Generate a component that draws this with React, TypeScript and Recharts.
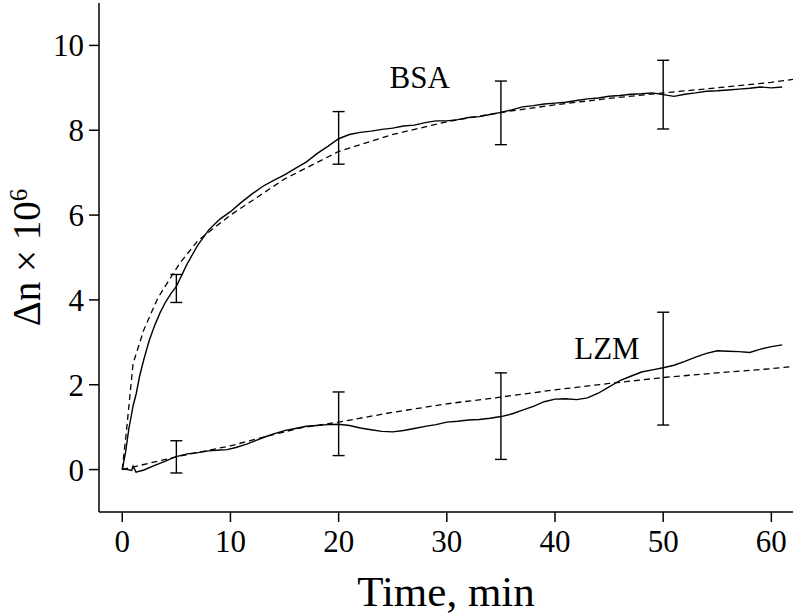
import React from "react";
import { ComposedChart, Line, Scatter, ErrorBar, XAxis, YAxis, ReferenceDot } from "recharts";

document.body.style.margin = "0";

const FONT = "'Liberation Serif', 'DejaVu Serif', serif";

// [time (min), Δn × 10^6]
const bsaMeasured: [number, number][] = [
  [0, 0], [0.3, 0.4], [0.6, 0.95], [1, 1.5], [1.3, 1.8], [1.6, 2.2], [2, 2.6], [2.5, 3.05],
  [3, 3.4], [3.5, 3.7], [4, 3.95], [4.5, 4.15], [5, 4.32], [6, 4.85], [7, 5.3], [8, 5.65],
  [9, 5.9], [10, 6.08], [11, 6.3], [12, 6.5], [13, 6.68], [14, 6.82], [15, 6.95], [16, 7.1],
  [17, 7.25], [18, 7.45], [19, 7.62], [20, 7.8], [21, 7.9], [22, 7.95], [23, 7.98], [24, 8.02],
  [25, 8.05], [26, 8.1], [27, 8.12], [28, 8.18], [29, 8.22], [30, 8.22], [31, 8.25], [32, 8.3],
  [33, 8.32], [34, 8.37], [35, 8.42], [36, 8.48], [37, 8.55], [38, 8.58], [39, 8.62], [40, 8.64],
  [41, 8.66], [42, 8.7], [43, 8.74], [44, 8.76], [45, 8.8], [46, 8.82], [47, 8.85], [48, 8.86],
  [49, 8.88], [50, 8.84], [51, 8.8], [52, 8.85], [53, 8.88], [54, 8.92], [55, 8.93], [56, 8.95],
  [57, 8.97], [58, 8.99], [59, 9.02], [60, 9.0], [61, 9.02],
];

const bsaFit: [number, number][] = [
  [0, 0], [0.4, 0.94], [0.7, 1.73], [1, 2.5], [2, 3.3], [3.3, 4.05], [5.3, 4.86], [7, 5.4],
  [10, 6.0], [15, 6.85], [20, 7.5], [25, 7.9], [30, 8.2], [35, 8.42], [40, 8.6], [45, 8.75],
  [50, 8.88], [55, 9.0], [60, 9.13], [62, 9.2],
];

const lzmMeasured: [number, number][] = [
  [0, 0.02], [0.5, 0.0], [0.87, -0.02], [1.0, 0.08], [1.27, -0.06], [2, -0.01], [3, 0.1],
  [4, 0.2], [4.9, 0.3], [6, 0.37], [7, 0.4], [8, 0.44], [9, 0.46], [9.7, 0.47], [10.5, 0.52],
  [11.5, 0.6], [12.5, 0.7], [13.3, 0.78], [14, 0.84], [15, 0.92], [16, 0.97], [17, 1.02],
  [18, 1.04], [19, 1.06], [20, 1.07], [21, 1.04], [22, 0.98], [23, 0.94], [24, 0.9], [25, 0.89],
  [26, 0.92], [27, 0.97], [28, 1.02], [29, 1.06], [30, 1.12], [31, 1.14], [32, 1.17], [33, 1.18],
  [34, 1.21], [35, 1.25], [36, 1.31], [37, 1.4], [38, 1.49], [39, 1.6], [40, 1.66], [41, 1.67],
  [42, 1.65], [43, 1.69], [44, 1.8], [45, 1.95], [46, 2.1], [47, 2.2], [48, 2.3], [49, 2.35],
  [50, 2.4], [51, 2.46], [52, 2.55], [53, 2.65], [54, 2.74], [55, 2.8], [56, 2.79], [57, 2.78],
  [58, 2.76], [59, 2.84], [60, 2.9], [61, 2.94],
];

const lzmFit: [number, number][] = [
  [0, 0], [2, 0.12], [5, 0.3], [10, 0.56], [13.3, 0.78], [16.4, 0.98], [20, 1.12], [25, 1.35],
  [30, 1.55], [35, 1.71], [40, 1.88], [45, 2.03], [50, 2.17], [55, 2.28], [60, 2.38], [62, 2.43],
];

// [time, mean, ± error]
const bsaBars: [number, number, number][] = [
  [5, 4.27, 0.33], [20, 7.82, 0.62], [35, 8.41, 0.75], [50, 8.84, 0.81],
];
const lzmBars: [number, number, number][] = [
  [5, 0.3, 0.38], [20, 1.08, 0.75], [35, 1.26, 1.02], [50, 2.38, 1.33],
];

const xTicks = [0, 10, 20, 30, 40, 50, 60];
const yTicks = [0, 2, 4, 6, 8, 10];

const pts = (rows: [number, number][]) => rows.map(([t, v]) => ({ t, v }));
const bars = (rows: [number, number, number][]) => rows.map(([t, v, e]) => ({ t, v, e }));

const tag = (text: string) => (props: any) => {
  const { viewBox } = props;
  return (
    <text
      x={viewBox.x + viewBox.width / 2}
      y={viewBox.y + viewBox.height / 2}
      textAnchor="middle"
      fontFamily={FONT}
      fontSize={31}
      fill="#000"
    >
      {text}
    </text>
  );
};

const YTitle = (props: any) => {
  const { viewBox } = props;
  const x = viewBox.x + 40;
  const y = viewBox.y + viewBox.height / 2;
  return (
    <text
      x={x}
      y={y}
      transform={`rotate(-90, ${x}, ${y})`}
      textAnchor="middle"
      fontFamily={FONT}
      fontSize={39}
      fill="#000"
    >
      Δn × 10
      <tspan dy={-13} fontSize={25}>6</tspan>
    </text>
  );
};

const XTitle = (props: any) => {
  const { viewBox } = props;
  return (
    <text
      x={viewBox.x + viewBox.width / 2}
      y={viewBox.y + 94}
      textAnchor="middle"
      fontFamily={FONT}
      fontSize={43}
      fill="#000"
    >
      Time, min
    </text>
  );
};

const tickStyle = { fill: "#000", fontSize: 31, fontFamily: FONT };
const axisLine = { stroke: "#000", strokeWidth: 1.5 };

export default function App() {
  return (
    <ComposedChart width={798} height={616} margin={{ top: 3, right: 5, bottom: 0, left: 0 }}>
      <XAxis
        dataKey="t"
        type="number"
        domain={[-2.15, 62]}
        ticks={xTicks}
        height={104}
        tickSize={10}
        tickMargin={8}
        tick={tickStyle}
        axisLine={axisLine}
        tickLine={axisLine}
        label={{ content: XTitle }}
      />
      <YAxis
        dataKey="v"
        type="number"
        domain={[-1, 11]}
        ticks={yTicks}
        width={99}
        tickSize={10}
        tickMargin={5}
        tick={tickStyle}
        axisLine={axisLine}
        tickLine={axisLine}
        label={{ content: YTitle }}
      />
      <Line data={pts(bsaFit)} dataKey="v" type="linear" dot={false} stroke="#000" strokeWidth={1.3} strokeDasharray="6 4" isAnimationActive={false} />
      <Line data={pts(lzmFit)} dataKey="v" type="linear" dot={false} stroke="#000" strokeWidth={1.3} strokeDasharray="6 4" isAnimationActive={false} />
      <Line data={pts(bsaMeasured)} dataKey="v" type="linear" dot={false} stroke="#000" strokeWidth={1.4} isAnimationActive={false} />
      <Line data={pts(lzmMeasured)} dataKey="v" type="linear" dot={false} stroke="#000" strokeWidth={1.4} isAnimationActive={false} />
      <Scatter data={bars(bsaBars)} dataKey="v" shape={() => <g />} isAnimationActive={false}>
        <ErrorBar dataKey="e" direction="y" width={6} stroke="#000" strokeWidth={1.4} isAnimationActive={false} />
      </Scatter>
      <Scatter data={bars(lzmBars)} dataKey="v" shape={() => <g />} isAnimationActive={false}>
        <ErrorBar dataKey="e" direction="y" width={6} stroke="#000" strokeWidth={1.4} isAnimationActive={false} />
      </Scatter>
      <ReferenceDot x={27.5} y={9.0} r={0} fill="none" stroke="none" label={{ content: tag("BSA") }} />
      <ReferenceDot x={44.8} y={2.61} r={0} fill="none" stroke="none" label={{ content: tag("LZM") }} />
    </ComposedChart>
  );
}
